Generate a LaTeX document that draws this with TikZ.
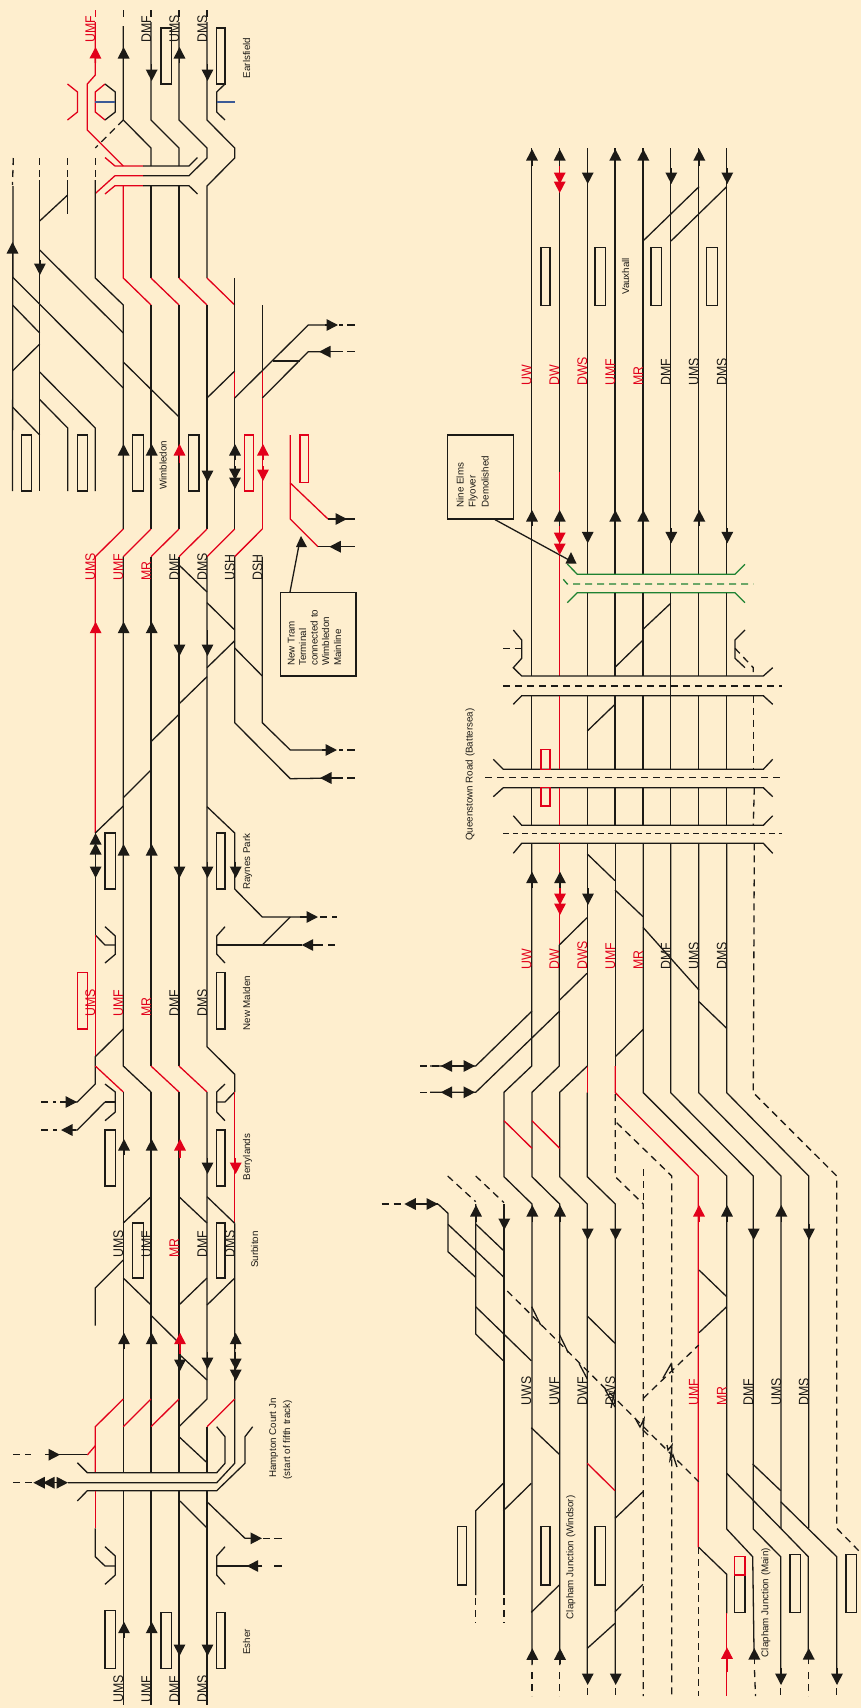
\documentclass[tikz,border=0pt]{standalone}
\usepackage{fontspec}
\usepackage{xcolor}
\usepackage{tikz}
\usetikzlibrary{arrows.meta, positioning, calc}
\setmainfont{Liberation Sans}
\newfontfamily\trackFont[FakeStretch=0.88]{Liberation Sans}
\definecolor{paperBg}{RGB}{254,238,206}
\definecolor{railBlack}{RGB}{28,26,22}
\definecolor{railRed}{RGB}{226,0,26}
\definecolor{railGreen}{RGB}{30,130,50}
\definecolor{railBlue}{RGB}{60,90,150}
\tikzset{
    trk/.style={draw=#1, line width=1.3pt},
    trk/.default=railBlack,
    dtrk/.style={draw=#1, line width=1.3pt, dash pattern=on 7pt off 5pt},
    dtrk/.default=railBlack,
    plat/.style={draw=#1, line width=1.3pt},
    plat/.default=railBlack,
    head/.style={-{Triangle[length=11.5pt,width=11.5pt]}, draw=#1, fill=#1, line width=1.5pt},
    head/.default=railBlack,
    lname/.style={rotate=90, anchor=base west, inner sep=0pt, text=#1, font=\trackFont\fontsize{14}{14}\selectfont},
    lname/.default=railBlack,
    stn/.style={rotate=90, anchor=base west, inner sep=0pt, text=railBlack, font=\fontsize{9.8}{11.7}\selectfont},
    callout/.style={rectangle, draw=railBlack, line width=1.3pt, inner sep=0pt}
}
\begin{document}
\begin{tikzpicture}[x=1pt, y=-1pt]
    \fill[paperBg] (0,0) rectangle (861,1708);

    % Earlsfield
    \draw[plat] (161,28) rectangle (171.3,84);
    \draw[plat] (216.7,28) rectangle (225,84);
    \draw[trk=railRed] (67.5,84) -- (77.5,92) -- (77.5,112) -- (67.5,120);
    \draw[trk=railRed] (105,84) -- (95.3,92) -- (95.3,112) -- (105,120);
    \draw[trk] (105,84) -- (115.3,92) -- (115.3,112) -- (105,120);
    \draw[trk] (225,84) -- (216.7,92) -- (216.7,112) -- (225,120);
    \draw[trk=railBlue] (95.3,102) -- (115.3,102);
    \draw[trk=railBlue] (216.7,102) -- (235,102);
    \foreach \tx in {123.3,151,179,207} \draw[trk] (\tx,10) -- (\tx,17);
    \draw[trk=railRed] (95.3,10) -- (95.3,17);
    \draw[trk=railRed] (95.3,22) -- (95.3,75) -- (87.3,84) -- (87.3,130) -- (123.3,166);
    \draw[trk] (123.3,26) -- (123.3,120) -- (151,148) -- (151,166);
    \draw[trk] (151,22) -- (151,120) -- (179,148) -- (179,166);
    \draw[trk] (179,22) -- (179,120) -- (207,148) -- (207,158) -- (189,175.7) -- (143,175.7);
    \draw[trk] (207,22) -- (207,120) -- (234.7,148) -- (234.7,158) -- (207,186) -- (207,278);
    \draw[dtrk] (123.3,120) -- (95.3,148);

    % bridge south of Earlsfield
    \draw[trk=railRed] (105,157.5) -- (115,166) -- (143,166);
    \draw[trk] (143,166) -- (189,166) -- (197.5,157.5);
    \draw[trk=railRed] (143,175.7) -- (115,175.7) -- (95.3,193.5);
    \draw[trk=railRed] (105,194) -- (115,185.7) -- (143,185.7);
    \draw[trk] (143,185.7) -- (189,185.7) -- (197.5,194);

    % Approach to Wimbledon
    \draw[dtrk] (13.3,158) -- (12.5,185);
    \draw[dtrk] (39.7,158) -- (39.7,178);
    \draw[dtrk] (67.7,158) -- (67.7,178);
    \draw[dtrk] (95.3,158) -- (95.3,178);
    \draw[trk] (13,186) -- (12.5,491);
    \draw[trk] (39.7,180) -- (39.7,491);
    \draw[trk] (67.7,180) -- (67.7,214);
    \draw[trk] (67.7,195) -- (39.7,221);
    \draw[trk] (95.3,180) -- (95.3,278) -- (123.3,305) -- (123.3,529);
    \draw[trk=railRed] (123.3,185.7) -- (123.3,278) -- (151,305);
    \draw[trk] (151,185.7) -- (151,278);
    \draw[trk=railRed] (151,278) -- (179,305);
    \draw[trk] (179,185.7) -- (179,278);
    \draw[trk=railRed] (179,278) -- (207,305);
    \draw[trk=railRed] (207,278) -- (234.7,305);
    \draw[trk] (151,305) -- (151,529);
    \draw[trk] (179,305) -- (179,529);
    \draw[trk] (207,305) -- (207,529);
    \draw[trk] (234.7,278) -- (234.7,371);
    \draw[trk=railRed] (234.7,371) -- (234.7,398);
    \draw[trk] (234.7,398) -- (234.7,529);
    \draw[trk] (262.3,305) -- (262.3,371);
    \draw[trk=railRed] (262.3,371) -- (262.3,529);
    \draw[trk] (39.7,250) -- (123.3,333);
    \draw[trk] (12.5,277) -- (123.3,388);
    \draw[trk] (123.3,362) -- (179,417);
    \draw[trk] (12.5,305) -- (39.7,333);
    \draw[trk] (12.5,371) -- (39.7,344);
    \draw[trk] (39.7,372) -- (95.3,428) -- (95.3,491);
    \draw[trk] (39.7,399.5) -- (67.7,428) -- (67.7,491);
    \draw[trk] (12.5,407) -- (39.7,435);
    \draw[trk] (207,398) -- (234.7,371);
    \draw[trk] (234.7,398) -- (308.3,325) -- (332,325);
    \draw[trk] (262.3,398) -- (308.3,351.7) -- (325,351.7);
    \draw[trk] (272.5,361) -- (300,361);
    \draw[trk] (339,325) -- (343,325) (347,325) -- (355,325);
    \draw[trk] (331,351.7) -- (343,351.7) (347,351.7) -- (355,351.7);

    % Wimbledon
    \draw[plat] (21.3,435) rectangle (31.7,491);
    \draw[plat] (77.3,435) rectangle (87.3,491);
    \draw[plat] (132.7,435) rectangle (143.3,491);
    \draw[plat] (188.3,435) rectangle (199,491);
    \draw[plat=railRed] (244.3,435) rectangle (253.3,491);
    \draw[plat=railRed] (300,435) rectangle (308.7,482.7);
    \draw[trk=railRed] (318,546.7) -- (290.3,519) -- (290.3,435);
    \draw[trk=railRed] (290.3,483) -- (328,519);
    \draw[trk] (318,546.7) -- (355,546.7);
    \draw[trk] (328,519) -- (355,519);
    \draw[trk=railRed] (123.3,529) -- (95.3,556.7) -- (95.3,833);
    \draw[trk=railRed] (151,529) -- (123.3,556.7);
    \draw[trk=railRed] (179,529) -- (151,556.7);
    \draw[trk=railRed] (207,529) -- (179,556.7);
    \draw[trk=railRed] (234.7,529) -- (207,556.7);
    \draw[trk=railRed] (262.3,529) -- (234.7,556.7);
    \draw[trk] (123.3,556.7) -- (123.3,1029) -- (123.3,1066) -- (151,1092);
    \draw[trk] (151,556.7) -- (151,1066);
    \draw[trk] (179,556.7) -- (179,1066);
    \draw[trk] (207,556.7) -- (207,1046.7) -- (234.7,1074.3) -- (234.7,1092);
    \draw[trk] (234.7,556.7) -- (234.7,722.7) -- (290.3,778.7) -- (335,778);
    \draw[trk] (262.3,556.7) -- (262.3,722.7) -- (290.3,750) -- (335,750);
    \draw[trk] (339,750) -- (343,750) (347,750) -- (355,750);
    \draw[trk] (331,778) -- (343,778) (347,778) -- (355,778);
    \draw[trk] (179,565) -- (207,592);
    \draw[trk] (207,602.7) -- (234.7,630);
    \draw[trk] (234.7,640.7) -- (207,667.7);
    \draw[trk] (207,676.7) -- (179,704);
    \draw[trk] (179,714.3) -- (151,741.7);
    \draw[trk] (151,770) -- (123.3,797.7);
    \draw[trk] (123.3,806) -- (95.3,833);
    \draw[trk] (234.7,648) -- (262.3,676);
    \node[callout, minimum width=75.3pt, minimum height=83.3pt] (tramBox) at (318.3,634.3) {};
    \node[stn] (tramA) at (294.5,666) {New Tram};
    \node[stn] (tramB) at (306,666) {Terminal};
    \node[stn] (tramC) at (317.5,666) {connected to};
    \node[stn] (tramD) at (329,666) {Wimbledon};
    \node[stn] (tramE) at (341,666) {Mainline};
    \coordinate (tramTip) at (301,536);
    \draw[trk] ($(tramBox.north west)+(10,0)$) -- ($(tramTip)+(-1.8,8)$);
    \fill[railBlack] (tramTip) -- ++(6,11) -- ++(-11,0) -- cycle;

    % Raynes Park and New Malden
    \draw[plat] (105,833) rectangle (115.3,889);
    \draw[plat] (216.7,833) rectangle (225,889);
    \draw[plat=railRed] (77.3,972.7) rectangle (87.3,1029);
    \draw[plat] (216.7,972.7) rectangle (225,1029);
    \draw[trk] (95.3,833) -- (95.3,935);
    \draw[trk] (207,806.7) -- (234.7,833) -- (234.7,889) -- (262.3,917) -- (308,917);
    \draw[dtrk] (320,917) -- (337,917);
    \draw[trk] (216.7,945) -- (302,945);
    \draw[dtrk] (316,945) -- (337,945);
    \draw[trk] (262.3,945) -- (290.3,917);
    \draw[trk] (225,926.7) -- (216.7,936) -- (216.7,954) -- (225,963);
    \draw[trk] (105,926.7) -- (115.3,936) -- (115.3,954.3) -- (105,963);
    \draw[trk] (95.3,935) -- (105,945) -- (115.3,945);
    \draw[trk=railRed] (95.3,935) -- (95.3,1056.7);
    \draw[trk] (123.3,1029) -- (95.3,1056.7) -- (95.3,1084) -- (77.3,1102) -- (67,1102);
    \draw[trk=railRed] (95.3,1066) -- (123.3,1092);
    \draw[trk=railRed] (151,1066) -- (179,1092);
    \draw[trk=railRed] (179,1066) -- (207,1092);
    \draw[dtrk] (41,1102) -- (56,1102);
    \draw[trk] (105,1102) -- (77.3,1130) -- (72,1130);
    \draw[dtrk] (41,1130) -- (57,1130);

    % Berrylands and Surbiton
    \draw[trk] (105,1084) -- (115.3,1092) -- (115.3,1112) -- (105,1120.7);
    \draw[trk] (105,1102) -- (115.3,1102);
    \draw[trk] (225,1084) -- (216.7,1092) -- (216.7,1112) -- (225,1120.7);
    \draw[trk] (216.7,1102) -- (225,1102) -- (234.7,1092);
    \draw[plat] (105,1130) rectangle (115.3,1186);
    \draw[plat] (216.7,1130) rectangle (225,1186);
    \draw[plat] (132.7,1223) rectangle (143.3,1278);
    \draw[plat] (216.7,1223) rectangle (225,1278);
    \draw[trk=railRed] (234.7,1092) -- (234.7,1223.3);
    \draw[trk] (234.7,1223.3) -- (234.7,1463.3) -- (216.7,1482.7) -- (68,1482.7);
    \draw[trk] (123.3,1092) -- (123.3,1472.7);
    \draw[trk] (151,1092) -- (151,1472.7);
    \draw[trk] (179,1092) -- (179,1472.7);
    \draw[trk] (207,1092) -- (207,1399) -- (179,1426.7);
    \draw[trk] (207,1426.7) -- (207,1472.7);
    \draw[trk] (151,1196.7) -- (123.3,1223);
    \draw[trk] (179,1196.7) -- (207,1223);
    \draw[trk] (207,1196.7) -- (234.7,1223.3);
    \draw[trk] (123.3,1260) -- (95.3,1288) -- (95.3,1325.7);
    \draw[trk] (123.3,1278) -- (151,1305);
    \draw[trk] (179,1305) -- (207,1278);
    \draw[trk] (207,1305) -- (234.7,1278);
    \draw[trk] (151.7,1316) -- (177,1341);
    \draw[trk] (180,1355) -- (207,1380);

    % Hampton Court Jn
    \draw[trk=railRed] (123.3,1399) -- (95.3,1426.7) -- (95.3,1472.7);
    \draw[trk=railRed] (151,1399) -- (123.3,1426.7);
    \draw[trk=railRed] (179,1399) -- (151,1426.7);
    \draw[trk=railRed] (234.7,1399) -- (207,1426.7);
    \draw[trk=railRed] (87.3,1455) -- (95.3,1445.7);
    \draw[trk] (87.3,1454.7) -- (55,1454.7);
    \draw[dtrk] (13,1454.7) -- (31,1454.7);
    \draw[trk] (179,1436.7) -- (207,1462.7);
    \draw[trk] (77.3,1462.7) -- (87.3,1472.7) -- (216.7,1472.7) -- (225,1463.3) -- (225,1436.7) -- (216.7,1426.7);
    \draw[trk] (77.3,1501) -- (87.3,1490.7) -- (216.7,1490.7) -- (245,1463.3) -- (245,1436.7) -- (252.7,1426.7);
    \draw[dtrk] (13,1482.7) -- (33,1482.7);
    \draw[trk=railRed] (95.3,1490.7) -- (95.3,1528.3);
    \draw[trk] (95.3,1528.3) -- (95.3,1556.7) -- (105,1566) -- (115.3,1566);
    \draw[trk] (105,1546.7) -- (115.3,1556) -- (115.3,1575) -- (105,1584.3);
    \draw[trk] (225,1546.7) -- (216.7,1556) -- (216.7,1575) -- (225,1584.3);
    \draw[trk] (123.3,1490.7) -- (123.3,1705);
    \draw[trk] (151,1490.7) -- (151,1705);
    \draw[trk] (179,1490.7) -- (179,1705);
    \draw[trk] (207,1490.7) -- (207,1705);
    \draw[trk] (180,1501) -- (207,1528);
    \draw[trk] (207,1501.7) -- (245,1538.3) -- (255,1538.3);
    \draw[trk] (263,1538.3) -- (270,1538.3) (274,1538.3) -- (281.7,1538.3);
    \draw[trk] (216.7,1566) -- (262,1566) (274,1566) -- (281.7,1566);

    % Esher
    \draw[plat] (105,1610.7) rectangle (115.3,1668.3);
    \draw[plat] (161,1612.3) rectangle (171.3,1668.3);
    \draw[plat] (216.7,1612.3) rectangle (225,1668.3);

    % Vauxhall and Nine Elms
    \draw[plat] (541,247.7) rectangle (550,305.7);
    \draw[plat] (595,247.7) rectangle (605.7,305.7);
    \draw[plat] (651,247.7) rectangle (661.7,305.7);
    \draw[plat] (706.7,247.7) rectangle (717.3,305.7);
    \draw[trk] (531.7,148) -- (531.7,676);
    \draw[trk] (559.3,148) -- (559.3,471.7);
    \draw[trk=railRed] (559.3,471.7) -- (559.3,676);
    \draw[trk] (587.3,148) -- (587.3,574.3);
    \draw[trk] (615,148) -- (615,574.3);
    \draw[trk] (643,148) -- (643,574.3);
    \draw[trk] (670.7,148) -- (670.7,574.3);
    \draw[trk] (698.7,148) -- (698.7,574.3);
    \draw[trk] (726.7,148) -- (726.7,574.3);
    \draw[trk] (643,241) -- (699,186.7);
    \draw[trk] (671,241) -- (726.7,186.7);
    \draw[trk=railGreen] (567.3,564) -- (577.3,574.3) -- (735,574.3) -- (745,564.3);
    \draw[dtrk=railGreen] (563.3,579.3) -- (567.3,584) -- (753.3,584);
    \draw[trk=railGreen] (567.3,602.7) -- (577.3,592.7) -- (735,592.7) -- (745,602.7);
    \node[callout, minimum width=66pt, minimum height=84pt] (elmsBox) at (480.7,477) {};
    \node[stn] (elmsA) at (463.5,507.7) {Nine Elms};
    \node[stn] (elmsB) at (475.5,507.7) {Flyover};
    \node[stn] (elmsC) at (488.5,507.7) {Demolished};
    \coordinate (elmsTip) at (571,552);
    \draw[trk] ($(elmsBox.south west)+(48,0)$) -- ($(elmsTip)+(-2,8)$);
    \fill[railBlack] (elmsTip) -- ++(5.5,11.5) -- ++(-11,0) -- cycle;

    % Queenstown Road
    \draw[trk] (587.3,592.7) -- (587.3,676);
    \draw[trk] (615,592.7) -- (615,676);
    \draw[trk] (643,592.7) -- (643,676);
    \draw[trk] (670.7,592.7) -- (670.7,695.7);
    \draw[trk] (698.7,592.7) -- (698.7,676);
    \draw[trk] (726.7,592.7) -- (726.7,676);
    \draw[trk] (615,667.3) -- (643,640);
    \draw[trk] (643,629.3) -- (670.7,603.3);
    \draw[trk] (513.3,630) -- (521.7,640) -- (521.7,658.3) -- (513.3,667.7) -- (521.7,676) -- (763.3,676) -- (772.7,667.7);
    \draw[dtrk] (503.3,648.3) -- (521.7,648.3);
    \draw[trk] (745,630) -- (735,640) -- (735,658.3) -- (745,667.7);
    \draw[dtrk] (735,648.3) -- (753.3,667.7) -- (753.3,676);
    \draw[dtrk] (503.3,686) -- (781.7,686);
    \draw[trk] (513.3,704.3) -- (521.7,695.7) -- (763.3,695.7) -- (772.7,704.3);
    \draw[trk] (493.3,759.3) -- (503.3,769.3) -- (763.3,769.3) -- (772.7,759.3);
    \draw[dtrk] (485,777.7) -- (780,777.7);
    \draw[trk] (493.3,796.7) -- (503.3,787.7) -- (763.3,787.7) -- (772.7,796.7);
    \draw[trk] (513.3,815.7) -- (521.7,825.3) -- (763.3,825.3) -- (772.7,815.7);
    \draw[dtrk, dash pattern=on 5.5pt off 4pt] (503.3,833.3) -- (781.7,833.3);
    \draw[trk] (513.3,853.3) -- (521.7,843.3) -- (763.3,843.3) -- (772.7,853.3);
    \foreach \tx in {531.7,587.3,615,643,670.7,698.7,726.7} {
        \draw[trk] (\tx,695.7) -- (\tx,769.3);
        \draw[trk] (\tx,787.7) -- (\tx,825.3);
    }
    \draw[trk=railRed] (559.3,695.7) -- (559.3,769.3);
    \draw[trk=railRed] (559.3,787.7) -- (559.3,825.3);
    \draw[trk=railRed] (559.3,843.3) -- (559.3,945);
    \draw[trk] (587.3,731) -- (615,704.3);
    \draw[plat=railRed] (541,749.3) rectangle (550,769.3);
    \draw[plat=railRed] (541,787.7) rectangle (550,806);
    \draw[dtrk] (753.3,695.7) -- (753.3,769.3);
    \draw[dtrk] (754.3,787.7) -- (753.3,825.3);
    \draw[dtrk] (754.3,843.3) -- (753.3,1092.7) -- (836.7,1176) -- (836.7,1528.3) -- (861,1553);

    % Between Queenstown Road and Clapham Junction
    \draw[trk] (531.7,843.3) -- (531.7,1066) -- (504,1092.3) -- (504,1176.7) -- (532,1204) -- (532,1665);
    \draw[trk] (559.3,945) -- (559.3,1066) -- (532,1092.3) -- (532,1176.7) -- (559.7,1204) -- (559.7,1665);
    \draw[trk] (587.3,843.3) -- (587.3,1066);
    \draw[trk=railRed] (587.3,1066) -- (587.3,1092.7);
    \draw[trk] (587.3,1066) -- (559.7,1092.3) -- (559.7,1176.7) -- (587.3,1204) -- (587.3,1680);
    \draw[trk] (587.3,1092.7) -- (587.3,1176.7) -- (615.3,1204) -- (615.3,1680);
    \draw[trk] (615.3,843.3) -- (615.3,1066);
    \draw[trk=railRed] (615.3,1066) -- (615.3,1092.7) -- (698.3,1176) -- (698.3,1547.3);
    \draw[trk] (643.3,843.3) -- (643.3,1092.7) -- (726.7,1176) -- (726.7,1529) -- (752.7,1556.7) -- (754,1650);
    \draw[trk] (670.7,843.3) -- (670.7,1092.7) -- (753.3,1176) -- (753.3,1529) -- (780.7,1556.7) -- (780.7,1680);
    \draw[trk] (698.7,843.3) -- (698.7,1092.7) -- (781,1176) -- (781,1528.3);
    \draw[trk] (726.7,843.3) -- (726.7,1092.7) -- (808.7,1176) -- (808.7,1528.3);
    \draw[trk] (587.3,854) -- (615,880.7);
    \draw[trk] (615,890) -- (643,916.7);
    \draw[trk] (643,927.3) -- (699,990);
    \draw[trk] (699,1001.7) -- (726.7,1028.3);
    \draw[trk] (587,917.7) -- (559.3,945);
    \draw[trk] (587,973.3) -- (559.7,1000);
    \draw[trk] (532,1011) -- (475.7,1066) -- (430,1066);
    \draw[trk] (559.7,1011) -- (475.7,1092.3) -- (430,1092.3);
    \draw[dtrk] (420,1066) -- (440,1066);
    \draw[dtrk] (420,1092.3) -- (440,1092.3);
    \draw[trk] (615.3,1056.7) -- (643.3,1029.3);
    \draw[trk=railRed] (504,1120.7) -- (532,1148.3);
    \draw[trk=railRed] (532,1120.7) -- (559.7,1148.3);
    \draw[dtrk] (615.3,1094) -- (615.3,1176.7) -- (643.3,1204) -- (643.3,1696);
    \draw[dtrk] (616.7,1122.7) -- (671.7,1176) -- (671.7,1696);
    \draw[dtrk] (643.3,1169) -- (643.3,1200);

    % Clapham Junction
    \draw[dtrk] (447.7,1176) -- (475.7,1201.7);
    \draw[dtrk] (475.7,1176) -- (504,1202.7);
    \draw[trk] (475.7,1204) -- (475.7,1334) -- (503.3,1360.7);
    \draw[trk] (504,1204) -- (504,1595);
    \draw[dtrk] (504,1598) -- (504,1623);
    \draw[trk] (438,1204) -- (420,1204);
    \draw[dtrk] (381.7,1204) -- (403,1204);
    \draw[trk] (438,1204) -- (448,1213.3) -- (448,1251.7) -- (475.7,1277.3);
    \draw[trk] (448,1224.3) -- (504,1277.3);
    \draw[trk] (476,1224.3) -- (504,1251);
    \draw[trk] (475.7,1306.7) -- (531.3,1360.7);
    \draw[trk] (531.3,1427.7) -- (559.3,1454.3);
    \draw[trk] (531.3,1483.3) -- (503.3,1510.7);
    \draw[trk] (503.3,1483.3) -- (475.7,1510.7) -- (475.7,1595);
    \draw[dtrk] (475.7,1598) -- (475.7,1623);
    \draw[trk] (587.3,1316) -- (615,1343.3);
    \draw[trk=railRed] (587.3,1463.3) -- (615,1490.7);
    \draw[trk] (643,1491.7) -- (615,1518.3);
    \draw[trk] (643,1584.3) -- (615,1611.7);
    \draw[trk] (615,1623.3) -- (587.3,1648.3);
    \draw[trk] (559.3,1585) -- (531.3,1612.3);
    \draw[dtrk] (507.3,1291) -- (698.7,1481.7);
    \draw[dtrk] (643.3,1398.3) -- (698.7,1345);
    \draw[trk] (531.7,1306.7) -- (540.7,1325);
    \draw[trk] (559.3,1334.3) -- (568.3,1352.7);
    \draw[trk] (579,1363.3) -- (587.3,1379);
    \draw[trk] (605,1389.3) -- (615,1407) (615,1390) -- (611,1408);
    \draw[trk] (635,1418) -- (640,1427) -- (644,1419) -- (643,1430) -- (648,1435);
    \draw[trk] (667,1445) -- (668,1450) -- (672,1445) -- (670,1460) -- (673,1455) -- (677,1467);
    \draw[trk] (663,1378) -- (671,1364) -- (673,1373);
    \draw[trk] (699,1270) -- (726.7,1296.7);
    \draw[trk] (699,1332.7) -- (726.7,1306.7);
    \draw[trk] (726.7,1473.3) -- (780.7,1528.3);
    \draw[trk] (752.7,1464) -- (780.7,1490.7);
    \draw[trk] (780.7,1501.7) -- (836.7,1556.7) -- (836.7,1680);
    \draw[trk] (780.7,1528.3) -- (808.3,1556.7) -- (808.3,1650);
    \draw[dtrk] (698.7,1547.3) -- (698.7,1696);
    \draw[trk] (698.7,1547.3) -- (726.7,1574.3) -- (726.7,1613.3);
    \draw[trk=railRed] (726.7,1613.3) -- (726.7,1696);
    \draw[plat] (457.3,1526.7) rectangle (466.7,1585);
    \draw[plat] (541,1526.7) rectangle (550,1585);
    \draw[plat] (595,1526.7) rectangle (605.7,1585);
    \draw[plat] (734.3,1575) rectangle (745,1612.7);
    \draw[plat=railRed] (734.3,1556.7) rectangle (745,1575);
    \draw[plat] (790,1554.3) rectangle (800.7,1612.7);
    \draw[plat] (846,1554.3) rectangle (856.7,1612.7);
    \draw[dtrk] (532,1672) -- (532,1696);
    \draw[dtrk] (559.7,1672) -- (559.7,1696);
    \draw[dtrk] (587.3,1688) -- (587.3,1696);
    \draw[dtrk] (615.3,1688) -- (615.3,1696);
    \draw[dtrk] (754.5,1670) -- (755.5,1696);
    \draw[dtrk] (780.7,1688) -- (780.7,1696);
    \draw[dtrk] (808.3,1672) -- (808.3,1696);
    \draw[dtrk] (836.7,1688) -- (836.7,1696);

    % Direction arrows, left panel
    \draw[head=railRed] (95.3,63) -- (95.6,47);
    \draw[head] (123.6,63) -- (123.6,47);
    \draw[head] (179.5,63) -- (179.5,47);
    \draw[head] (151.7,64) -- (151.7,81);
    \draw[head] (207.5,64) -- (207.5,81);
    \draw[head] (12.5,258) -- (12.5,242);
    \draw[head] (39.9,260) -- (39.9,275);
    \draw[head] (123.6,460) -- (123.6,444);
    \draw[head] (151.7,460) -- (151.7,444);
    \draw[head=railRed] (179.5,463) -- (179.5,444);
    \draw[head] (207.5,466) -- (207.5,482);
    \draw[head] (235,460) -- (235,444);
    \draw[head] (235,466) -- (235,480);
    \draw[head] (235,475) -- (235,489);
    \draw[head=railRed] (263,460) -- (263,444);
    \draw[head=railRed] (263,466) -- (263,481);
    \draw[head=railRed] (95.6,637) -- (95.6,621.7);
    \draw[head] (123.6,637) -- (123.6,621.7);
    \draw[head] (151.7,637) -- (151.7,621.7);
    \draw[head] (179.5,630) -- (179.5,656);
    \draw[head] (207.5,630) -- (207.5,656);
    \draw[head] (322,750) -- (337,750);
    \draw[head] (335,778) -- (320,778);
    \draw[head] (95.6,850) -- (95.6,833);
    \draw[head] (95.6,860) -- (95.6,843);
    \draw[head] (123.6,860) -- (123.6,844);
    \draw[head] (151.7,860) -- (151.7,844);
    \draw[head] (95.6,862) -- (95.6,878);
    \draw[head] (179.5,862) -- (179.5,878);
    \draw[head] (207.5,862) -- (207.5,878);
    \draw[head] (235.7,862) -- (235.7,878);
    \draw[head] (300,917) -- (318,917);
    \draw[head] (316,945) -- (301.7,945);
    \draw[head] (60,1102) -- (77,1102);
    \draw[head] (76,1130) -- (61,1130);
    \draw[head] (124,1155) -- (124,1139);
    \draw[head] (151.7,1155) -- (151.7,1139);
    \draw[head=railRed] (180,1158) -- (180,1139);
    \draw[head] (207.5,1158) -- (207.5,1174);
    \draw[head=railRed] (235.7,1158) -- (235.7,1174);
    \draw[head] (124,1349) -- (124,1332.7);
    \draw[head] (151.7,1349) -- (151.7,1332.7);
    \draw[head=railRed] (180,1354) -- (180,1332.7);
    \draw[head] (180,1354) -- (180,1371);
    \draw[head] (207.5,1352) -- (207.5,1369);
    \draw[head] (235.7,1349) -- (235.7,1332.7);
    \draw[head] (235.7,1352) -- (235.7,1370);
    \draw[head] (235.7,1365) -- (235.7,1381);
    \draw[head] (45,1454.7) -- (60,1454.7);
    \draw[head] (60,1482.7) -- (33.3,1482.7);
    \draw[head] (55,1482.7) -- (43,1482.7);
    \draw[head] (52,1482.7) -- (68,1482.7);
    \draw[head] (250,1538.3) -- (262,1538.3);
    \draw[head] (262,1566) -- (246.7,1566);
    \draw[head] (124,1638) -- (124,1621.7);
    \draw[head] (151.7,1638) -- (151.7,1621.7);
    \draw[head] (179.5,1640) -- (179.5,1656);
    \draw[head] (207.5,1640) -- (207.5,1656);
    \draw[head] (335,519) -- (347,519);
    \draw[head] (345,546.7) -- (329.3,546.7);
    \draw[head] (325,325) -- (338,325);
    \draw[head] (335,351.7) -- (319,351.7);

    % Direction arrows, right panel
    \foreach \tx in {532,559.7,615.3,643.3,699.3} \draw[head] (\tx,166) -- (\tx,149);
    \foreach \tx in {587.7,671.3,727.3} \draw[head] (\tx,168) -- (\tx,184);
    \draw[head=railRed] (559.7,166) -- (559.7,184);
    \draw[head=railRed] (559.7,178) -- (559.7,193);
    \foreach \tx in {532,559.7,615.3,643.3,699.3} \draw[head] (\tx,526) -- (\tx,510);
    \foreach \tx in {587.7,671.3,727.3} \draw[head] (\tx,528) -- (\tx,543.3);
    \draw[head=railRed] (559.7,526) -- (559.7,544);
    \draw[head=railRed] (559.7,540) -- (559.7,555);
    \draw[head] (532,888) -- (532,871.7);
    \draw[head] (560,888) -- (560,871.7);
    \draw[head=railRed] (560,888) -- (560,905);
    \draw[head=railRed] (560,900) -- (560,915);
    \draw[head] (588,888) -- (588,905);
    \draw[head] (450,1066) -- (475,1066);
    \draw[head] (460,1066) -- (440.7,1066);
    \draw[head] (450,1092.3) -- (475,1092.3);
    \draw[head] (460,1092.3) -- (440.7,1092.3);
    \draw[head] (415,1204) -- (438,1204);
    \draw[head] (425,1204) -- (404.3,1204);
    \foreach \tx in {476,532.3,560} \draw[head] (\tx,1222) -- (\tx,1205);
    \draw[head=railRed] (699,1222) -- (699,1205);
    \draw[head] (727,1222) -- (727,1205);
    \draw[head] (781.3,1222) -- (781.3,1205);
    \draw[head] (504.3,1214) -- (504.3,1230);
    \foreach \tx in {587.7,615.7,753.7,809} \draw[head] (\tx,1224) -- (\tx,1240);
    \foreach \tx in {532.3,560} \draw[head] (\tx,1664) -- (\tx,1648.3);
    \draw[head=railRed] (727,1672) -- (727,1647.3);
    \draw[head] (754.3,1664) -- (754.3,1648);
    \draw[head] (808.7,1664) -- (808.7,1648);
    \foreach \tx in {587.7,615.7,781,837} \draw[head] (\tx,1668) -- (\tx,1685);

    % Track names
    \node[lname=railRed] (umfTop) at (95,43) {UMF};
    \node[lname] (dmfTop) at (151,43) {DMF};
    \node[lname] (umsTop) at (179,43) {UMS};
    \node[lname] (dmsTop) at (207,43) {DMS};
    \node[lname=railRed] (umsWim) at (95,581) {UMS};
    \node[lname=railRed] (umfWim) at (123,581) {UMF};
    \node[lname=railRed] (mrWim) at (151,581) {MR};
    \node[lname] (dmfWim) at (179,581) {DMF};
    \node[lname] (dmsWim) at (207,581) {DMS};
    \node[lname] (ushWim) at (234.7,581) {USH};
    \node[lname] (dshWim) at (262.3,581) {DSH};
    \node[lname=railRed] (umsMal) at (95,1016.7) {UMS};
    \node[lname=railRed] (umfMal) at (123,1016.7) {UMF};
    \node[lname=railRed] (mrMal) at (151,1016.7) {MR};
    \node[lname] (dmfMal) at (179,1016.7) {DMF};
    \node[lname] (dmsMal) at (207,1016.7) {DMS};
    \node[lname] (umsSur) at (123,1258) {UMS};
    \node[lname] (umfSur) at (151,1258) {UMF};
    \node[lname=railRed] (mrSur) at (179,1258) {MR};
    \node[lname] (dmfSur) at (207,1258) {DMF};
    \node[lname] (dmsSur) at (234.7,1258) {DMS};
    \node[lname] (umsEsh) at (123,1702.7) {UMS};
    \node[lname] (umfEsh) at (151,1702.7) {UMF};
    \node[lname] (dmfEsh) at (179,1702.7) {DMF};
    \node[lname] (dmsEsh) at (207,1702.7) {DMS};
    \node[lname=railRed] (uwVau) at (531.3,386) {UW};
    \node[lname=railRed] (dwVau) at (559,386) {DW};
    \node[lname=railRed] (dwsVau) at (587,386) {DWS};
    \node[lname=railRed] (umfVau) at (615,386) {UMF};
    \node[lname=railRed] (mrVau) at (643,386) {MR};
    \node[lname] (dmfVau) at (670.7,386) {DMF};
    \node[lname] (umsVau) at (698.7,386) {UMS};
    \node[lname] (dmsVau) at (726.7,386) {DMS};
    \node[lname=railRed] (uwQue) at (531.3,970) {UW};
    \node[lname=railRed] (dwQue) at (559,970) {DW};
    \node[lname=railRed] (dwsQue) at (587,970) {DWS};
    \node[lname=railRed] (umfQue) at (615,970) {UMF};
    \node[lname=railRed] (mrQue) at (643,970) {MR};
    \node[lname] (dmfQue) at (670.7,970) {DMF};
    \node[lname] (umsQue) at (698.7,970) {UMS};
    \node[lname] (dmsQue) at (726.7,970) {DMS};
    \node[lname] (uwsCla) at (531,1405.7) {UWS};
    \node[lname] (uwfCla) at (559,1405.7) {UWF};
    \node[lname] (dwfCla) at (587,1405.7) {DWF};
    \node[lname] (dwsCla) at (615,1405.7) {DWS};
    \node[lname=railRed] (umfCla) at (698.7,1405.7) {UMF};
    \node[lname=railRed] (mrCla) at (726.7,1405.7) {MR};
    \node[lname] (dmfCla) at (753,1405.7) {DMF};
    \node[lname] (umsCla) at (781,1405.7) {UMS};
    \node[lname] (dmsCla) at (808.7,1405.7) {DMS};

    % Station names
    \node[stn] (earlsfield) at (250,78.3) {Earlsfield};
    \node[stn] (wimbledon) at (166.5,490) {Wimbledon};
    \node[stn] (raynesPark) at (250,890) {Raynes Park};
    \node[stn] (newMalden) at (250,1030.7) {New Malden};
    \node[stn] (berrylands) at (250,1180.7) {Berrylands};
    \node[stn] (surbiton) at (258,1268) {Surbiton};
    \node[stn] (hamptonA) at (276,1478) {Hampton Court Jn};
    \node[stn] (hamptonB) at (290,1479.5) {(start of fifth track)};
    \node[stn] (esher) at (250,1655) {Esher};
    \node[stn] (vauxhall) at (629,295) {Vauxhall};
    \node[stn] (queenstown) at (472.7,841) {Queenstown Road (Battersea)};
    \node[stn] (claphamW) at (573.3,1619.3) {Clapham Junction (Windsor)};
    \node[stn] (claphamM) at (768.3,1657.3) {Clapham Junction (Main)};
\end{tikzpicture}
\end{document}
